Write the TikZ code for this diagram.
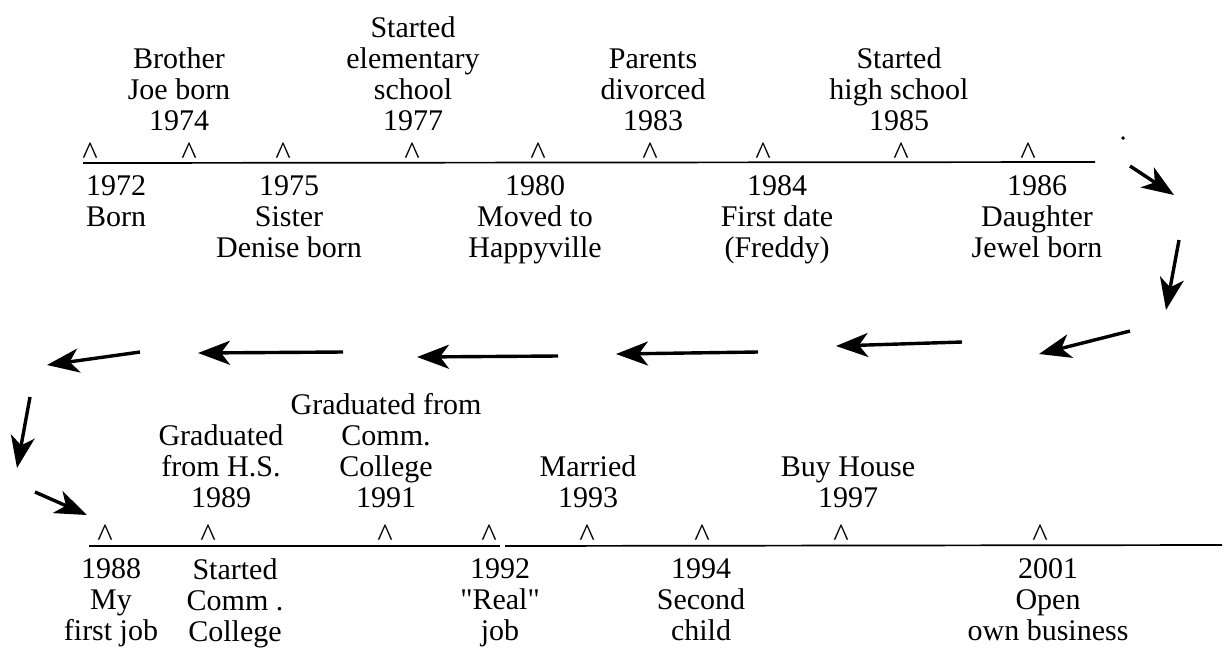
\documentclass[tikz,border=0pt]{standalone}
\usepackage{fontspec}
\defaultfontfeatures{}
\setmainfont{Liberation Serif}[Ligatures=TeXOff]
\usetikzlibrary{arrows.meta}
\begin{document}
\begin{tikzpicture}[x=1pt,y=-1pt,
  lbl/.style={font=\fontsize{30}{31}\selectfont, align=center, inner sep=0pt},
  toplbl/.style={lbl, anchor=south},
  botlbl/.style={lbl, anchor=north},
  caret/.style={font=\fontsize{33}{33}\selectfont, inner sep=0pt, anchor=base},
  tline/.style={line width=1.7pt},
  arr/.style={line width=3.4pt, -{Stealth[length=32pt,width=24pt,inset=9pt]}}]
\useasboundingbox (0,0) rectangle (1225,649);

% ---------- first timeline ----------
\coordinate (a0) at (83,163);
\coordinate (a1) at (1095,162);
\draw[tline] (a0) -- (a1);
\foreach \x [count=\i] in {90,189,283,412,538,650,763,901,1028}
  \node[caret] (ca\i) at (\x,164) {\textasciicircum};

\node[toplbl] (joe)    at (179,131) {Brother\\Joe born\\1974};
\node[toplbl] (elem)   at (413,131) {Started\\elementary\\school\\1977};
\node[toplbl] (div)    at (653,131) {Parents\\divorced\\1983};
\node[toplbl] (hs)     at (899,131) {Started\\high school\\1985};

\node[botlbl] (born)   at (116,175) {1972\\Born};
\node[botlbl] (sister) at (289,175) {1975\\Sister\\Denise born};
\node[botlbl] (moved)  at (535,175) {1980\\Moved to\\Happyville};
\node[botlbl] (date)   at (777,175) {1984\\First date\\(Freddy)};
\node[botlbl] (jewel)  at (1037,175) {1986\\Daughter\\Jewel born};

\node[circle, fill, inner sep=1.4pt] (dot) at (1123,138) {};

% ---------- connecting arrows ----------
\coordinate (p1s) at (1130,166);  \coordinate (p1e) at (1174,195);
\coordinate (p2s) at (1179,240);  \coordinate (p2e) at (1166,310);
\coordinate (p3s) at (1130,331);  \coordinate (p3e) at (1039,354);
\coordinate (p4s) at (962,342);   \coordinate (p4e) at (836,346);
\coordinate (p5s) at (758,352);   \coordinate (p5e) at (616,354);
\coordinate (p6s) at (558,356);   \coordinate (p6e) at (417,357);
\coordinate (p7s) at (343,352);   \coordinate (p7e) at (198,353);
\coordinate (p8s) at (140,352);   \coordinate (p8e) at (47,365);
\coordinate (p9s) at (30,397);    \coordinate (p9e) at (17,468);
\coordinate (p10s) at (35,492);   \coordinate (p10e) at (87,515);
\foreach \k in {1,...,10}
  \draw[arr] (p\k s) -- (p\k e);

% ---------- second timeline ----------
\coordinate (b0) at (89,546);
\coordinate (b1) at (500,546);
\coordinate (b2) at (505,546);
\coordinate (b3) at (1222,545);
\draw[tline] (b0) -- (b1);
\draw[tline] (b2) -- (b3);
\foreach \x [count=\i] in {105,208,385,489,587,702,841,1040}
  \node[caret] (cb\i) at (\x,546) {\textasciicircum};

\node[toplbl] (gradhs)  at (221,508) {Graduated\\from H.S.\\1989};
\node[toplbl] (gradcc)  at (386,508) {Graduated from\\Comm.\\College\\1991};
\node[toplbl] (married) at (588,508) {Married\\1993};
\node[toplbl] (house)   at (848,508) {Buy House\\1997};

\node[botlbl] (job1)    at (111,558) {1988\\My\\first job};
\node[botlbl] (cc)      at (235,558) {Started\\Comm .\\College};
\node[botlbl] (job2)    at (500,558) {1992\\"Real"\\job};
\node[botlbl] (child)   at (701,558) {1994\\Second\\child};
\node[botlbl] (biz)     at (1048,558) {2001\\Open\\own business};
\end{tikzpicture}
\end{document}
